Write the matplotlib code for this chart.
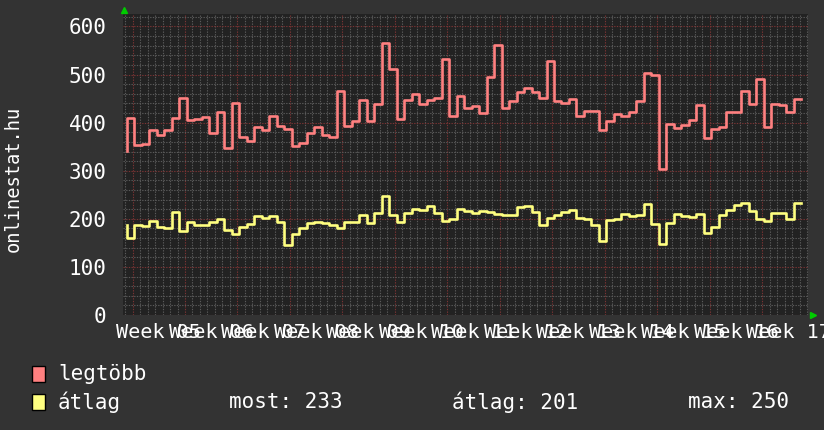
import numpy as np
import matplotlib.pyplot as plt
from matplotlib.patches import Rectangle
from matplotlib.ticker import MultipleLocator

# daily values, first value is only the left-edge starting point
legtobb = [342, 409, 353, 355, 385, 375, 385, 409, 451, 405, 407, 411, 378, 422, 347,
           441, 371, 362, 391, 385, 413, 394, 387, 351, 358, 378, 391, 375, 371, 465,
           394, 404, 447, 404, 438, 565, 512, 407, 447, 460, 438, 447, 451, 533, 414,
           455, 430, 434, 420, 494, 562, 430, 446, 463, 473, 463, 451, 529, 445, 441,
           449, 413, 424, 425, 384, 403, 418, 413, 422, 445, 503, 499, 304, 398, 389,
           396, 405, 436, 368, 387, 391, 422, 422, 465, 438, 491, 392, 438, 436, 422, 450]
atlag = [187, 161, 187, 186, 196, 183, 181, 214, 175, 193, 188, 188, 193, 199, 176,
         169, 182, 190, 206, 202, 206, 193, 145, 169, 180, 191, 193, 192, 188, 181,
         193, 193, 208, 192, 212, 248, 207, 193, 212, 220, 218, 227, 213, 195, 199,
         220, 216, 212, 216, 214, 210, 207, 207, 225, 227, 214, 188, 202, 207, 214,
         218, 202, 199, 188, 154, 197, 199, 210, 205, 209, 230, 190, 147, 192, 210,
         205, 203, 210, 171, 183, 208, 218, 228, 232, 216, 200, 196, 212, 212, 200, 233]
weeks = ['Week %02d' % w for w in range(5, 18)]
legend_names = ['legtöbb', 'átlag']
stats = ['most: 233', 'átlag: 201', 'max: 250']

start = -0.78  # first sample, in days from the start of week 05
t = start + np.arange(len(legtobb))

bg = '#333333'
red = '#ff8080'
yellow = '#ffff80'
mono = 'DejaVu Sans Mono'

fig = plt.figure(figsize=(8.24, 4.30), dpi=100, facecolor=bg)
ax = fig.add_axes([123.3 / 824, 1 - 315 / 430, (808 - 123.3) / 824, (315 - 13.5) / 430])
ax.set_facecolor('#222222')

ax.plot(t, legtobb, drawstyle='steps', color=red, lw=1.9, zorder=3)
ax.plot(t, atlag, drawstyle='steps', color=yellow, lw=1.9, zorder=3)

ax.set_xlim(-1.23, 90.1)
ax.set_ylim(0, 627)
ax.xaxis.set_major_locator(MultipleLocator(7))
ax.xaxis.set_minor_locator(MultipleLocator(1))
ax.yaxis.set_major_locator(MultipleLocator(100))
ax.yaxis.set_minor_locator(MultipleLocator(20))
ax.grid(which='minor', color='#5a5a5a', linestyle=(0, (1.2, 1.2)), lw=0.8)
ax.grid(which='major', color='#7a3434', linestyle=(0, (1.2, 1.2)), lw=0.8)
ax.set_axisbelow(True)
ax.tick_params(which='both', length=0, colors='white')
ax.tick_params(axis='y', pad=12, labelsize=15)
ax.set_xticklabels([])
for lbl in ax.get_yticklabels():
    lbl.set_family(mono)
for s in ax.spines.values():
    s.set_visible(False)

for i, w in enumerate(weeks):
    ax.text(7 * i + 3.5, -0.025, w, transform=ax.get_xaxis_transform(), ha='center', va='top',
            color='white', fontsize=14.5, family=mono, clip_on=False)

# axis arrows
ax.plot([0.001], [1.012], marker='^', color='#00cc00', ms=5, transform=ax.transAxes, clip_on=False)
ax.plot([1.007], [0.0], marker='>', color='#00cc00', ms=5, transform=ax.transAxes, clip_on=False)

fig.text(13 / 824, 1 - 179 / 430, 'onlinestat.hu', rotation=90, ha='center', va='center',
         color='white', fontsize=13.5, family=mono)

rows = [1 - 374 / 430, 1 - 402 / 430]
for y, name, c in zip(rows, legend_names, [red, yellow]):
    fig.patches.append(Rectangle((32 / 824, y - 8 / 430), 13 / 824, 16 / 430, transform=fig.transFigure,
                                 facecolor=c, edgecolor='black', lw=1))
    fig.text(58 / 824, y, name, ha='left', va='center', color='white', fontsize=15, family=mono)
for x, s in zip([229, 452, 688], stats):
    fig.text(x / 824, rows[1], s, ha='left', va='center', color='white', fontsize=15, family=mono)

fig.savefig('out.png', dpi=100, facecolor=bg)
